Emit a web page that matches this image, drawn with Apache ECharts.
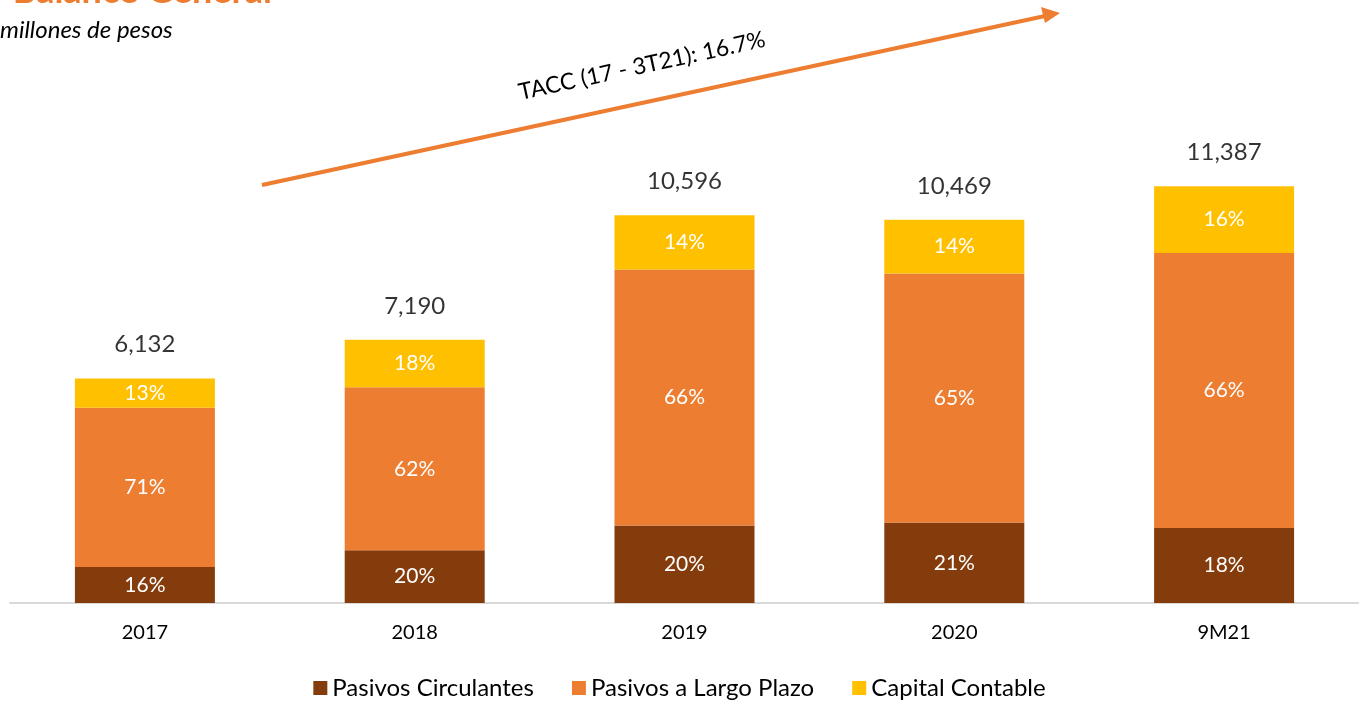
<!DOCTYPE html>
<html><head><meta charset="utf-8">
<script src="https://cdn.jsdelivr.net/npm/echarts@6/dist/echarts.min.js"></script>
<style>html,body{margin:0;padding:0;background:#fff}#c{width:1359px;height:702px}</style>
</head><body><div id="c"></div>
<script>
const categories = ['2017', '2018', '2019', '2020', '9M21'];
const totals = [6132, 7190, 10596, 10469, 11387];
const pctCirculantes = [16, 20, 20, 21, 18];
const pctLargoPlazo = [71, 62, 66, 65, 66];
const pctCapital = [13, 18, 14, 14, 16];
const seriesNames = ['Pasivos Circulantes', 'Pasivos a Largo Plazo', 'Capital Contable'];
const colors = ['#843C0C', '#ED7D31', '#FFC000'];
const titleText = 'Balance General';
const subtitleText = 'millones de pesos';
const taccText = 'TACC (17 - 3T21): 16.7%';

const FONT = 'Lato';
const pcts = [pctCirculantes, pctLargoPlazo, pctCapital];
const chart = echarts.init(document.getElementById('c'));

const barSeries = pcts.map((p, si) => ({
  name: seriesNames[si],
  type: 'bar',
  stack: 'total',
  barWidth: 140,
  itemStyle: { color: colors[si] },
  label: {
    show: true, position: 'inside', color: '#fff', fontFamily: FONT, fontSize: 21,
    formatter: (params) => p[params.dataIndex] + '%'
  },
  data: totals.map((t, i) => ({ value: t * p[i] / 100 }))
}));

chart.setOption({
  animation: false,
  grid: { left: 10, right: -2, top: 43, bottom: 99, containLabel: false },
  xAxis: {
    type: 'category', data: categories,
    axisLine: { lineStyle: { color: '#D9D9D9', width: 2 } },
    axisTick: { show: false },
    axisLabel: { color: '#000', fontFamily: FONT, fontSize: 20, margin: 20 }
  },
  yAxis: { type: 'value', min: 0, max: 15300, show: false, splitLine: { show: false } },
  legend: {
    bottom: -3, left: 'center', itemWidth: 14, itemHeight: 14, itemGap: 38,
    icon: 'rect',
    textStyle: { color: '#000', fontFamily: FONT, fontSize: 24, padding: [0, 0, 0, 0] },
    data: seriesNames
  },
  series: [
    ...barSeries,
    {
      name: 'Total', type: 'scatter', symbolSize: 0, silent: true,
      label: {
        show: true, position: 'top', distance: 22, color: '#000', fontFamily: FONT, fontSize: 24,
        formatter: (params) => totals[params.dataIndex].toLocaleString('en-US')
      },
      data: totals
    }
  ],
  graphic: [
    { type: 'text', x: 272, y: 9,
      style: { text: titleText, fill: '#ED7D31', font: 'bold 36px ' + FONT, textAlign: 'right', textVerticalAlign: 'bottom' } },
    { type: 'text', x: 0, y: 30,
      style: { text: subtitleText, fill: '#000', font: 'italic 24px ' + FONT, textAlign: 'left', textVerticalAlign: 'middle' } },
    { type: 'line', shape: { x1: 262, y1: 185, x2: 1045, y2: 16 },
      style: { stroke: '#ED7D31', lineWidth: 4 } },
    { type: 'polygon', shape: { points: [[1060, 13], [1041, 7], [1045, 23]] },
      style: { fill: '#ED7D31' } },
    { type: 'text', x: 642, y: 66, rotation: 12.3 * Math.PI / 180,
      style: { text: taccText, fill: '#000', font: '23px ' + FONT, textAlign: 'center', textVerticalAlign: 'middle' } }
  ]
});
</script></body></html>
